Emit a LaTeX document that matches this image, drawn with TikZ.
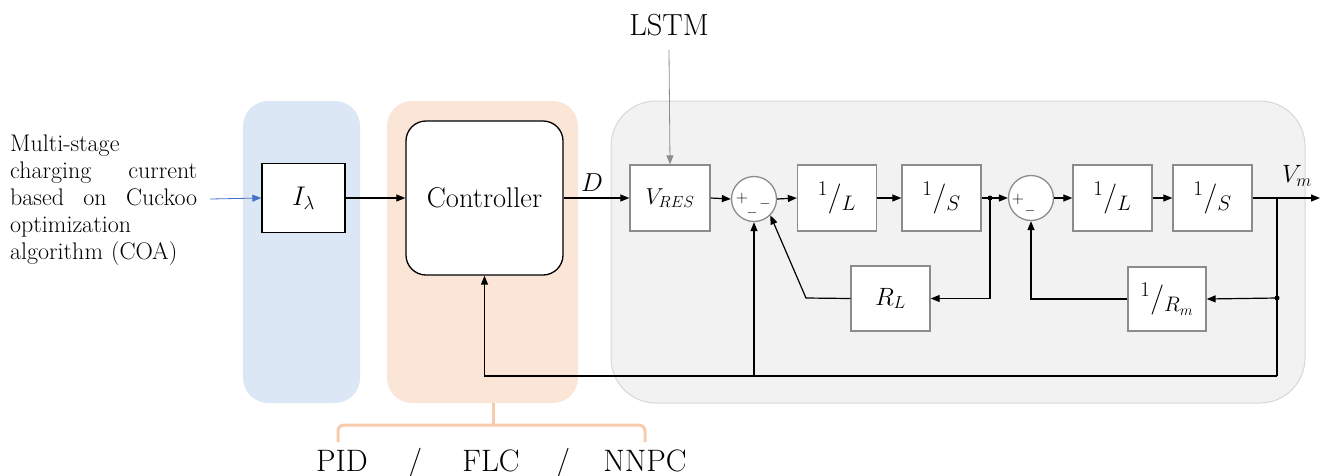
\RequirePackage{fix-cm}
\documentclass[tikz,border=0pt]{standalone}
\usepackage{fontspec}
\usetikzlibrary{arrows.meta}
\definecolor{bgblue}{RGB}{220,231,245}
\definecolor{bgorange}{RGB}{251,229,214}
\definecolor{bggray}{RGB}{242,242,242}
\definecolor{bgline}{RGB}{215,215,215}
\definecolor{boxgray}{RGB}{140,140,140}
\definecolor{arrblue}{RGB}{68,114,196}
\definecolor{brk}{RGB}{248,203,173}
\begin{document}
\begin{tikzpicture}[x=1pt,y=-1pt,
  bgreg/.style={draw=none, inner sep=0, rounded corners=25pt},
  blk/.style={draw=boxgray, line width=1.3pt, fill=white, minimum width=79pt, minimum height=66pt, inner sep=0, font=\fontsize{30}{30}\selectfont},
  sumc/.style={circle, draw=boxgray, line width=1.3pt, fill=white, minimum size=45pt, inner sep=0},
  arr/.style={-{Triangle[length=9pt,width=7pt]}, line width=1.2pt},
  ln/.style={line width=1.2pt},
  sgn/.style={inner sep=0, font=\fontsize{16}{16}\selectfont},
  lbl/.style={inner sep=0, anchor=base, font=\fontsize{31}{31}\selectfont},
  jdot/.style={circle, fill=black, inner sep=0, minimum size=5pt}]
\useasboundingbox (0,0) rectangle (1325,475);
% backgrounds
\node[bgreg, fill=bgblue, minimum width=117pt, minimum height=302pt] (bgI) at (301.5,252) {};
\node[bgreg, fill=bgorange, minimum width=191pt, minimum height=302pt] (bgC) at (482.5,252) {};
\node[bgreg, fill=bggray, draw=bgline, line width=1pt, rounded corners=45pt, minimum width=694pt, minimum height=302pt] (bgP) at (958,252) {};
% left text
\node[inner sep=0, anchor=west, text width=187pt, align=left, font=\fontsize{24}{27}\selectfont] (txt) at (10,200)
 {Multi-stage\\ charging\hfill current\\ based\hfill on\hfill Cuckoo\\ optimization\\ algorithm (COA)};
\coordinate (src) at (210,199);
% blocks
\node[draw=black, line width=1.3pt, fill=white, minimum width=83pt, minimum height=69pt, inner sep=0, font=\fontsize{27}{27}\selectfont] (I) at (303.5,198) {$I_\lambda$};
\node[draw=black, line width=1.3pt, fill=white, rounded corners=20pt, minimum width=157pt, minimum height=154pt, inner sep=0, font=\fontsize{28.5}{28.5}\selectfont] (ctrl) at (484.5,198) {Controller};
\node[blk, minimum width=80pt, font=\fontsize{23}{23}\selectfont] (vres) at (670,198) {$V_{RES}$};
\node[lbl, font=\fontsize{30.5}{30.5}\selectfont] (lstm) at (669,35) {LSTM};
\node[inner sep=0, font=\fontsize{26}{26}\selectfont] (D) at (592,183) {$D$};
\node[sumc] (s1) at (754,199) {};
\node[blk] (L1) at (837,198) {${}^{1}/_{L}$};
\node[blk] (S1) at (941.5,198) {${}^{1}/_{S}$};
\node[jdot] (d1) at (990,198) {};
\node[sumc] (s2) at (1031,198) {};
\node[blk] (L2) at (1112.5,198) {${}^{1}/_{L}$};
\node[blk] (S2) at (1212.5,198) {${}^{1}/_{S}$};
\node[inner sep=0, font=\fontsize{25}{25}\selectfont] (Vm) at (1297,176) {$V_m$};
\coordinate (out) at (1320,198);
\coordinate (j1) at (1277,198);
\node[jdot] (j2) at (1277,298) {};
\coordinate (j3) at (1277,376);
\node[blk, minimum height=65pt, font=\fontsize{25}{25}\selectfont] (RL) at (890.5,298.5) {$R_L$};
\node[blk, minimum width=78pt, minimum height=64pt] (Rm) at (1167,299) {${}^{1}/_{R_m}$};
\coordinate (c1) at (806,298);
% signs
\node[sgn] at (742,198) {$+$};
\node[sgn, font=\fontsize{14}{14}\selectfont] at (765,204) {$-$};
\node[sgn, font=\fontsize{14}{14}\selectfont] at (752,213) {$-$};
\node[sgn] at (1018,199) {$+$};
\node[sgn, font=\fontsize{14}{14}\selectfont] at (1030,211) {$-$};
% connectors
\draw[arr, draw=arrblue, line width=0.8pt] (src) -- (I.west);
\draw[arr] (I.east) -- (ctrl.west);
\draw[arr] (ctrl.east) -- (vres.west);
\draw[arr, draw=boxgray, line width=0.8pt] (lstm.south |- 0,50) -- (vres.north);
\draw[arr] (vres.east) -- (s1.west);
\draw[arr] (s1.east) -- (L1.west);
\draw[arr] (L1.east) -- (S1.west);
\draw[arr] (S1.east) -- (s2.west);
\draw[arr] (s2.east) -- (L2.west);
\draw[arr] (L2.east) -- (S2.west);
\draw[arr] (S2.east) -- (out);
\draw[arr] (d1.center) |- (RL.east);
\draw[arr] (RL.west) -- (c1) -- (s1.-45);
\draw[arr] (j2.center) -- (Rm.east);
\draw[arr] (Rm.west) -| (s2.south);
\draw[ln] (j1) -- (j3);
\draw[arr] (j3) -| (s1.south);
\draw[arr] (j3) -| (ctrl.south);
% bracket
\draw[brk, line width=3pt, rounded corners=6pt] (338,442) -- (338,425) -- (645,425) -- (645,442);
\draw[brk, line width=3pt] (493,403) -- (493,425);
\node[lbl] (pid) at (342,471) {PID};
\node[lbl] (sl1) at (415,471) {/};
\node[lbl] (flc) at (491,471) {FLC};
\node[lbl] (sl2) at (563,471) {/};
\node[lbl] (nnpc) at (645,471) {NNPC};
\end{tikzpicture}
\end{document}
